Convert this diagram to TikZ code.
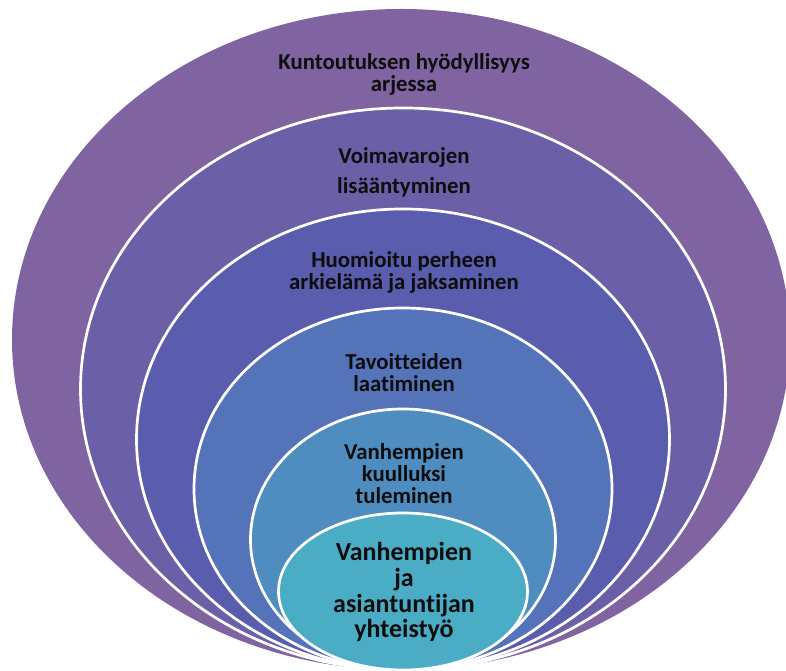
\documentclass[tikz,border=0pt]{standalone}
\usepackage{fontspec}
\setmainfont{Carlito}[Ligatures=NoCommon]
\definecolor{cA}{HTML}{8064A2}
\definecolor{cB}{HTML}{6B5FA8}
\definecolor{cC}{HTML}{5A5DAD}
\definecolor{cD}{HTML}{5573B9}
\definecolor{cE}{HTML}{4F8DC0}
\definecolor{cF}{HTML}{4BACC6}
\definecolor{txt}{HTML}{0D0D0D}
\tikzset{
  ring/.style={draw=white, line width=2.7pt},
  lbl/.style={anchor=base, inner sep=0pt, text=txt, font=\fontsize{22.8}{22.8}\selectfont\bfseries},
  lblbig/.style={anchor=base, inner sep=0pt, text=txt, font=\fontsize{26}{26}\selectfont\bfseries}
}
\begin{document}
\begin{tikzpicture}[x=1pt,y=1pt]
\useasboundingbox (0,0) rectangle (786,671);
\begin{scope}
\clip (0,0) rectangle (786,671);
\fill[cA] (401,331.5) ellipse (389 and 330.5);
\filldraw[ring, fill=cB] (403,282) ellipse (322.5 and 281);
\filldraw[ring, fill=cC] (403,231.5) ellipse (266.5 and 230.5);
\filldraw[ring, fill=cD] (403,182) ellipse (209 and 181);
\filldraw[ring, fill=cE] (403,131.5) ellipse (152.5 and 130.5);
\filldraw[ring, fill=cF] (403,79.5) ellipse (124.5 and 78.5);
\end{scope}
\node[lbl] (t1a) at (404,601) {Kuntoutuksen hyödyllisyys};
\node[lbl] (t1b) at (404,579) {arjessa};
\node[lbl] (t2a) at (404,507) {Voimavarojen};
\node[lbl] (t2b) at (404,477) {lisääntyminen};
\node[lbl] (t3a) at (404,403) {Huomioitu perheen};
\node[lbl] (t3b) at (404,381) {arkielämä ja jaksaminen};
\node[lbl] (t4a) at (404,301) {Tavoitteiden};
\node[lbl] (t4b) at (404,279) {laatiminen};
\node[lbl] (t5a) at (404,211) {Vanhempien};
\node[lbl] (t5b) at (404,189) {kuulluksi};
\node[lbl] (t5c) at (404,167) {tuleminen};
\node[lblbig] (t6a) at (404,110) {Vanhempien};
\node[lblbig] (t6b) at (404,84) {ja};
\node[lblbig] (t6c) at (404,58) {asiantuntijan};
\node[lblbig] (t6d) at (404,33) {yhteistyö};
\end{tikzpicture}
\end{document}
